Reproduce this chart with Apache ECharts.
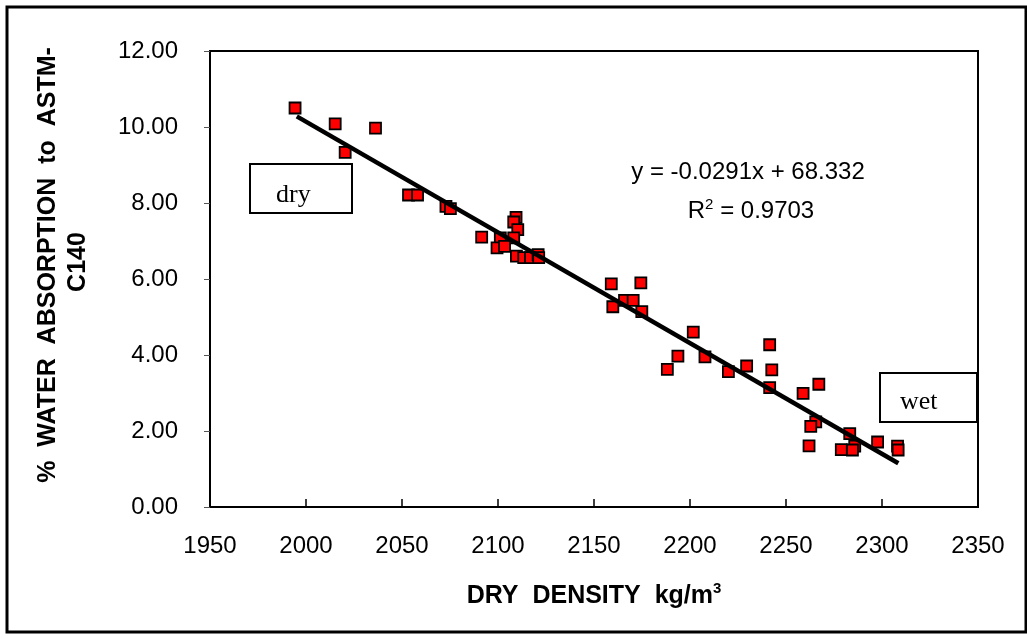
<!DOCTYPE html>
<html>
<head>
<meta charset="utf-8">
<script src="https://cdn.jsdelivr.net/npm/echarts@6/dist/echarts.min.js"></script>
<style>
html,body{margin:0;padding:0;background:#fff;}
#chart{width:1027px;height:639px;}
</style>
</head>
<body>
<div id="chart"></div>
<script>
// Dry density (kg/m3) of each specimen
const density = [1994.3, 2015.2, 2036.2, 2020.4, 2053.4, 2058.1, 2072.9, 2075.2, 2109.4, 2108.2,
  2110.3, 2091.5, 2101.2, 2108.2, 2099.5, 2103.4, 2109.6, 2113.4, 2116.9, 2120.9,
  2121.2, 2159.0, 2174.4, 2165.9, 2170.4, 2159.8, 2174.9, 2201.7, 2193.7, 2207.8,
  2188.2, 2220.0, 2229.5, 2241.5, 2242.6, 2241.5, 2258.9, 2267.1, 2265.5, 2262.9,
  2262.0, 2283.2, 2285.8, 2278.8, 2284.6, 2297.7, 2308.1, 2308.4];
// % water absorption (ASTM C140)
const absorption = [10.50, 10.08, 9.97, 9.33, 8.21, 8.21, 7.91, 7.85, 7.62, 7.50,
  7.30, 7.10, 7.08, 7.08, 6.82, 6.86, 6.60, 6.56, 6.56, 6.64,
  6.56, 5.87, 5.90, 5.44, 5.44, 5.27, 5.14, 4.60, 3.97, 3.95,
  3.62, 3.56, 3.71, 4.27, 3.61, 3.14, 2.99, 3.23, 2.24, 2.12,
  1.61, 1.93, 1.60, 1.51, 1.50, 1.71, 1.60, 1.50];
// Linear trendline end points as drawn
const trendX = [1995.2, 2308.5];
const trendY = [10.28, 1.15];
const xTicks = [1950, 2000, 2050, 2100, 2150, 2200, 2250, 2300, 2350];
const yTicks = [0, 2, 4, 6, 8, 10, 12];
const equationText = 'y = -0.0291x + 68.332';
const r2Value = '0.9703';

const points = density.map((d, i) => [d, absorption[i]]);
const trend = trendX.map((d, i) => [d, trendY[i]]);

const chart = echarts.init(document.getElementById('chart'), null, {renderer: 'canvas'});
const FONT = '"Liberation Sans", Arial, sans-serif';
const SERIF = '"Liberation Serif", "Times New Roman", serif';

chart.setOption({
  animation: false,
  backgroundColor: '#fff',
  grid: {left: 210, right: 49, top: 51, bottom: 132, show: true, borderColor: '#000', borderWidth: 2, backgroundColor: 'transparent'},
  xAxis: {
    type: 'value', min: xTicks[0], max: xTicks[xTicks.length - 1], interval: 50,
    axisLine: {show: true, lineStyle: {color: '#000', width: 2}},
    axisTick: {show: true, inside: true, length: 8, lineStyle: {color: '#000', width: 1.5}},
    axisLabel: {color: '#000', fontFamily: FONT, fontSize: 24, margin: 27, formatter: v => String(v)},
    splitLine: {show: false}
  },
  yAxis: {
    type: 'value', min: yTicks[0], max: yTicks[yTicks.length - 1], interval: 2,
    axisLine: {show: true, lineStyle: {color: '#000', width: 2}},
    axisTick: {show: true, inside: false, length: 6, lineStyle: {color: '#555', width: 1}},
    axisLabel: {color: '#000', fontFamily: FONT, fontSize: 24, margin: 32, formatter: v => v.toFixed(2)},
    splitLine: {show: false}
  },
  series: [
    {
      type: 'scatter', data: points, symbol: 'rect', symbolSize: 11,
      itemStyle: {color: '#ff0000', borderColor: '#000', borderWidth: 1.8, opacity: 1},
      z: 2
    },
    {
      type: 'line', data: trend, showSymbol: false, symbol: 'none',
      lineStyle: {color: '#000', width: 4.5}, z: 3
    }
  ],
  graphic: [
    {type: 'rect', shape: {x: 7, y: 7, width: 1019, height: 625}, style: {fill: 'none', stroke: '#000', lineWidth: 3}, silent: true},
    {type: 'text', x: 48, y: 265, rotation: Math.PI / 2,
      style: {text: '%  WATER  ABSORPTION  to  ASTM-', font: 'bold 25px ' + FONT, fill: '#000', textAlign: 'center', textVerticalAlign: 'middle'}},
    {type: 'text', x: 78, y: 262, rotation: Math.PI / 2,
      style: {text: 'C140', font: 'bold 25px ' + FONT, fill: '#000', textAlign: 'center', textVerticalAlign: 'middle'}},
    {type: 'text', x: 594, y: 595,
      style: {
        text: '{a|DRY  DENSITY  kg/m}{s|3}',
        rich: {
          a: {font: 'bold 25px ' + FONT, fill: '#000', verticalAlign: 'bottom'},
          s: {font: 'bold 15px ' + FONT, fill: '#000', verticalAlign: 'top', padding: [0, 0, 12, 0]}
        },
        textAlign: 'center', textVerticalAlign: 'middle'
      }},
    {type: 'text', x: 748, y: 172,
      style: {text: equationText, font: '24px ' + FONT, fill: '#000', textAlign: 'center', textVerticalAlign: 'middle'}},
    {type: 'text', x: 751, y: 211,
      style: {
        text: '{a|R}{s|2}{a| = ' + r2Value + '}',
        rich: {
          a: {font: '24px ' + FONT, fill: '#000'},
          s: {font: '15px ' + FONT, fill: '#000', padding: [0, 0, 12, 0]}
        },
        textAlign: 'center', textVerticalAlign: 'middle'
      }},
    {type: 'rect', shape: {x: 250, y: 164, width: 102, height: 49}, style: {fill: '#fff', stroke: '#000', lineWidth: 2}, z: 10},
    {type: 'text', x: 276, y: 195, z: 11,
      style: {text: 'dry', font: '26px ' + SERIF, fill: '#000', textAlign: 'left', textVerticalAlign: 'middle'}},
    {type: 'rect', shape: {x: 880, y: 373, width: 97, height: 49}, style: {fill: '#fff', stroke: '#000', lineWidth: 2}, z: 10},
    {type: 'text', x: 900, y: 402, z: 11,
      style: {text: 'wet', font: '26px ' + SERIF, fill: '#000', textAlign: 'left', textVerticalAlign: 'middle'}}
  ]
});
</script>
</body>
</html>
